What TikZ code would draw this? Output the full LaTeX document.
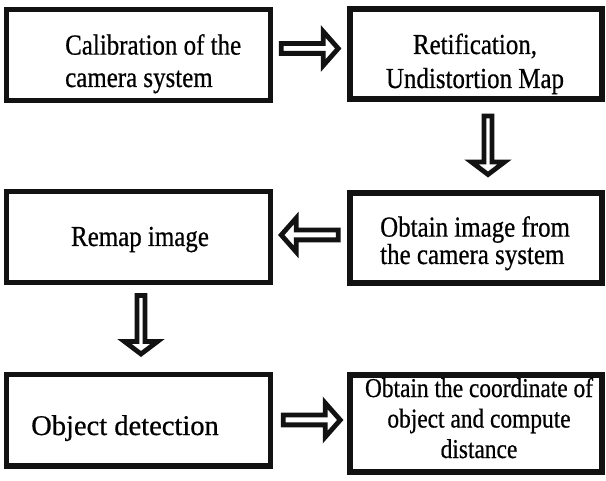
\documentclass[tikz,border=0pt]{standalone}
\usepackage{fontspec}
% a condensed serif face, set tall
\setmainfont[FakeStretch=0.86, FakeBold=0.6]{Liberation Serif}
% the same face at its natural width
\newfontfamily\widefont[FakeBold=0.6]{Liberation Serif}
\usetikzlibrary{calc}

\tikzset{
  box/.style={draw=black!93, line width=5pt, fill=white, inner sep=0pt},
  leftbox/.style={box, minimum width=264pt, minimum height=91pt},
  rightbox/.style={box, line width=6pt, minimum width=252pt, minimum height=90pt},
  txt/.style={inner sep=0pt, font=\fontsize{29}{32.4}\selectfont},
  arrowline/.style={draw=black!93, fill=white, line width=4.8pt, line join=miter},
  pics/harrow/.style={code={
    \draw[arrowline] (-28.5,-4.9) -- (13.5,-4.9) -- (13.5,-17) -- (28.5,0)
      -- (13.5,17) -- (13.5,4.9) -- (-28.5,4.9) -- cycle;}},
  pics/varrow/.style={code={
    \draw[arrowline] (-29.5,-4) -- (16.5,-4) -- (16.5,-16.5) -- (29,0)
      -- (16.5,16.5) -- (16.5,4) -- (-29.5,4) -- cycle;}},
}

\begin{document}
\begin{tikzpicture}[x=1pt, y=1pt]
  \useasboundingbox[fill=white] (0,0) rectangle (606,480);

  % process steps
  \node[leftbox]  (calib)  at (138,424.5) {};
  \node[rightbox] (rect)   at (476,425.5) {};
  \node[leftbox]  (remap)  at (138,242.5) {};
  \node[rightbox] (grab)   at (476,241.5) {};
  \node[leftbox]  (detect) at (138,59.5)  {};
  \node[rightbox, minimum height=97pt] (dist) at (476,56.5) {};

  % their captions (base anchor = baseline of the last line)
  \node[txt, align=left, anchor=base west] (calibtxt) at (65,393)
    {Calibration of the\\camera system};
  \node[txt, align=center, anchor=base, font=\fontsize{29}{34}\selectfont]
    (recttxt) at (475,392) {Retification,\\Undistortion Map};
  \node[txt, anchor=base] (remaptxt) at (140,234) {Remap image};
  \node[txt, align=left, anchor=base west, font=\fontsize{29}{26}\selectfont]
    (grabtxt) at (380,216) {Obtain image from\\the camera system};
  \node[txt, anchor=base, font=\widefont\fontsize{28.5}{32}\selectfont]
    (detecttxt) at (125,45) {Object detection};
  \node[txt, align=center, anchor=base, font=\fontsize{27.2}{30.5}\selectfont]
    (disttxt) at (479,22) {Obtain the coordinate of\\object and compute\\distance};

  % block arrows between the steps
  \pic at ($(calib.east)!0.5!(rect.west)+(0,6.5)$) {harrow};
  \pic[rotate=-90] at ($(rect.south)!0.5!(grab.north)+(12,1)$) {varrow};
  \pic[rotate=180] at ($(remap.east)!0.5!(grab.west)+(0,3)$) {harrow};
  \pic[rotate=-90] at ($(remap.south)!0.5!(detect.north)+(3,4)$) {varrow};
  \pic at ($(detect.east)!0.5!(dist.west)+(2,2)$) {harrow};
\end{tikzpicture}
\end{document}
